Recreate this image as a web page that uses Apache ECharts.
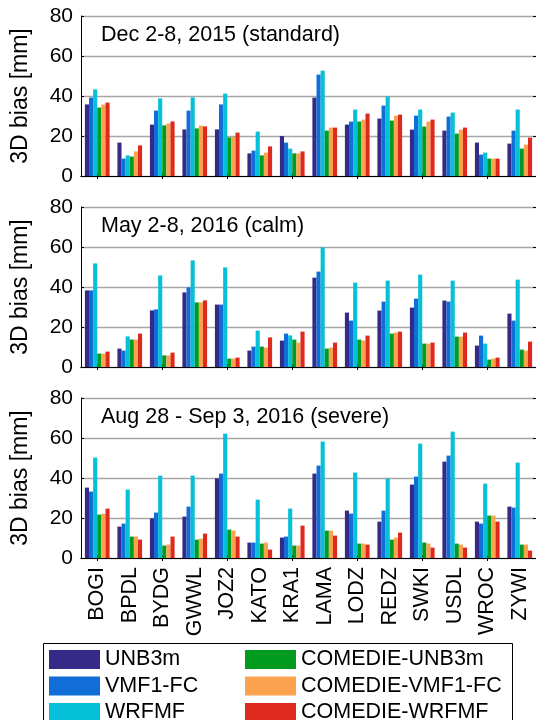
<!DOCTYPE html>
<html>
<head>
<meta charset="utf-8">
<script src="https://cdn.jsdelivr.net/npm/echarts@6/dist/echarts.min.js"></script>
<style>html,body{margin:0;padding:0;background:#fff;}#c{width:536px;height:720px;}</style>
</head>
<body>
<div id="c"></div>
<script>
var stations = ['BOGI','BPDL','BYDG','GWWL','JOZ2','KATO','KRA1','LAMA','LODZ','REDZ','SWKI','USDL','WROC','ZYWI'];
var seriesNames = ['UNB3m','VMF1-FC','WRFMF','COMEDIE-UNB3m','COMEDIE-VMF1-FC','COMEDIE-WRFMF'];
var panelTitles = ['Dec 2-8, 2015 (standard)','May 2-8, 2016 (calm)','Aug 28 - Sep 3, 2016 (severe)'];
var yTicks = [0,20,40,60,80];

// Panel 1: Dec 2-8, 2015 (standard)
var dec_UNB3m   = [35.8,16.7,25.7,23.3,23.3,11.3,20.0,39.2,25.7,28.7,23.2,22.7,16.7,16.2];
var dec_VMF1FC  = [39.2, 8.7,32.7,32.7,35.8,12.7,16.7,50.7,27.2,35.2,30.2,29.7,10.7,22.7];
var dec_WRFMF   = [43.3,10.3,38.8,39.3,41.2,22.2,13.7,52.7,33.2,39.7,33.2,31.7,11.7,33.2];
var dec_C_UNB3m = [34.2, 9.7,25.3,23.8,19.3,10.3,11.3,22.7,27.2,27.7,24.7,21.2, 8.7,13.7];
var dec_C_VMF1  = [35.7,12.3,26.3,25.2,19.5,11.7,11.3,24.2,28.2,30.2,27.2,23.2, 8.7,15.7];
var dec_C_WRFMF = [36.7,15.3,27.3,24.8,21.7,14.8,12.3,24.2,31.2,30.7,28.2,24.2, 8.7,19.2];

// Panel 2: May 2-8, 2016 (calm)
var may_UNB3m   = [38.3, 9.2,28.3,37.3,31.2, 8.2,13.2,44.7,27.2,28.2,29.7,33.2,10.7,26.7];
var may_VMF1FC  = [38.3, 8.2,28.8,39.8,31.2,10.2,16.7,47.7,23.2,32.7,34.2,32.7,15.7,23.2];
var may_WRFMF   = [51.8,15.3,45.8,53.3,49.8,18.2,15.8,59.8,42.2,43.2,46.2,43.2,11.7,43.7];
var may_C_UNB3m = [ 6.7,13.7, 5.8,32.3, 4.2,10.2,13.7, 9.2,13.7,16.7,11.7,15.2, 3.7, 8.7];
var may_C_VMF1  = [ 6.7,13.7, 5.8,32.3, 4.2, 9.7,12.2, 9.7,13.2,17.2,11.7,15.2, 4.2, 8.2];
var may_C_WRFMF = [ 7.7,16.7, 7.2,33.3, 4.7,14.8,17.7,12.2,15.7,17.7,12.2,17.2, 4.7,12.7];

// Panel 3: Aug 28 - Sep 3, 2016 (severe)
var aug_UNB3m   = [35.2,15.7,19.8,20.7,39.8, 7.7,10.2,42.2,23.7,18.2,36.7,48.2,18.2,25.7];
var aug_VMF1FC  = [33.2,17.2,22.7,25.7,42.2, 7.7,10.7,46.2,22.2,23.7,40.7,51.2,17.2,25.2];
var aug_WRFMF   = [50.2,34.2,41.2,41.2,62.2,29.2,24.7,58.2,42.7,39.7,57.2,63.2,37.2,47.7];
var aug_C_UNB3m = [21.7,10.7, 6.2, 9.2,14.2, 7.2, 6.2,13.7, 7.2, 9.2, 7.7, 7.2,21.2, 6.7];
var aug_C_VMF1  = [22.2,10.7, 6.7, 9.7,13.7, 7.7, 6.2,13.7, 7.2,10.2, 7.2, 6.7,21.2, 6.7];
var aug_C_WRFMF = [24.7, 9.2,10.7,12.2,10.7, 4.2,16.2,11.2, 6.7,12.7, 5.2, 5.2,18.2, 3.7];

var panelData = [
  [dec_UNB3m, dec_VMF1FC, dec_WRFMF, dec_C_UNB3m, dec_C_VMF1, dec_C_WRFMF],
  [may_UNB3m, may_VMF1FC, may_WRFMF, may_C_UNB3m, may_C_VMF1, may_C_WRFMF],
  [aug_UNB3m, aug_VMF1FC, aug_WRFMF, aug_C_UNB3m, aug_C_VMF1, aug_C_WRFMF]
];

var colors = ['#352A87','#116ED8','#06BFD9','#019C1F','#FBA24F','#DE2A1E'];
var FONT = '"Liberation Sans", Arial, Helvetica, sans-serif';

var gridTops = [16, 207, 398];
var gridH = 160;
var grids = [], xAxes = [], yAxes = [], series = [], graphics = [];

for (var p = 0; p < 3; p++) {
  grids.push({left: 81, top: gridTops[p], width: 457, height: gridH, containLabel: false,
              show: false});
  // bottom x axis
  xAxes.push({
    type: 'category', gridIndex: p, position: 'bottom', data: stations,
    axisLine: {show: true, lineStyle: {color: '#000', width: 1}},
    axisTick: {show: true, inside: true, alignWithLabel: true, length: 3, lineStyle: {color: '#000'}},
    axisLabel: {show: p === 2, rotate: 90, fontSize: 21.5, fontFamily: FONT, color: '#000', margin: 9},
    splitLine: {show: false}
  });
  // top x axis (frame)
  xAxes.push({
    type: 'category', gridIndex: p, position: 'top', data: stations,
    axisLine: {show: true, lineStyle: {color: '#000', width: 1}},
    axisTick: {show: true, inside: true, alignWithLabel: true, length: 3, lineStyle: {color: '#000'}},
    axisLabel: {show: false}, splitLine: {show: false}
  });
  // left y axis
  yAxes.push({
    type: 'value', gridIndex: p, position: 'left', min: 0, max: 80, interval: 20,
    name: '3D bias [mm]', nameLocation: 'middle', nameGap: 49,
    nameTextStyle: {fontSize: 23, fontFamily: FONT, color: '#000'},
    axisLine: {show: true, lineStyle: {color: '#000', width: 1}},
    axisTick: {show: true, inside: true, length: 3, lineStyle: {color: '#000'}},
    axisLabel: {show: true, fontSize: 21, fontFamily: FONT, color: '#000', margin: 8},
    splitLine: {show: true, lineStyle: {color: '#a6a6a6', width: 1.3}}
  });
  // right y axis (frame)
  yAxes.push({
    type: 'value', gridIndex: p, position: 'right', min: 0, max: 80, interval: 20,
    axisLine: {show: true, lineStyle: {color: '#000', width: 1}},
    axisTick: {show: true, inside: true, length: 3, lineStyle: {color: '#000'}},
    axisLabel: {show: false}, splitLine: {show: false}
  });
  for (var s = 0; s < 6; s++) {
    series.push({
      type: 'bar', name: seriesNames[s], xAxisIndex: p * 2, yAxisIndex: p * 2,
      data: panelData[p][s], barGap: '0%', barCategoryGap: '24%',
      itemStyle: {color: colors[s]}, silent: true, animation: false
    });
  }
  graphics.push({
    type: 'text', x: 101, y: gridTops[p] + 19.5, z: 10,
    style: {text: panelTitles[p], fontSize: 21.5, fontFamily: FONT, fill: '#000',
            verticalAlign: 'middle', align: 'left'}
  });
}

// legend frame
graphics.push({
  type: 'rect', z: 0,
  shape: {x: 43.5, y: 643.5, width: 469, height: 100},
  style: {fill: '#fff', stroke: '#000', lineWidth: 1}
});

var legendCommon = {
  orient: 'vertical', padding: 0, itemWidth: 51, itemHeight: 19, itemGap: 4.5,
  icon: 'rect', selectedMode: false, z: 5, height: 100,
  textStyle: {fontSize: 21.5, fontFamily: FONT, color: '#000', lineHeight: 20}
};

var option = {
  animation: false,
  color: colors,
  grid: grids,
  xAxis: xAxes,
  yAxis: yAxes,
  series: series,
  legend: [
    Object.assign({}, legendCommon, {left: 49, top: 648.5, data: seriesNames.slice(0, 3)}),
    Object.assign({}, legendCommon, {left: 245, top: 648.5, data: seriesNames.slice(3, 6)})
  ],
  graphic: graphics
};

var chart = echarts.init(document.getElementById('c'), null, {renderer: 'canvas'});
chart.setOption(option);
</script>
</body>
</html>
